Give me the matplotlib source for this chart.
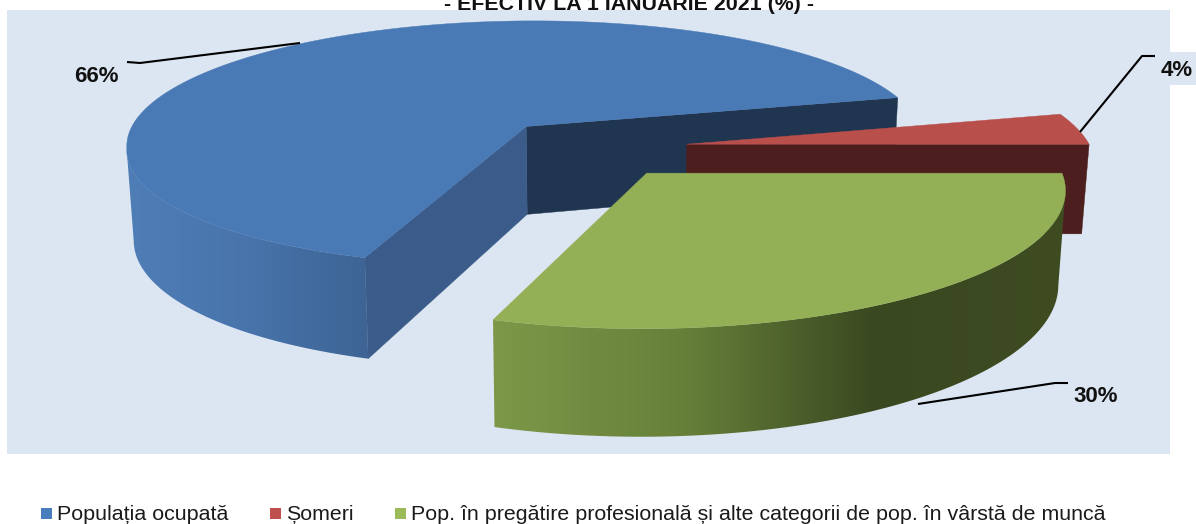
import numpy as np
import matplotlib
matplotlib.use("Agg")
import matplotlib.pyplot as plt
from matplotlib.patches import Polygon, Rectangle
from matplotlib.colors import LinearSegmentedColormap

categories = ["Populația ocupată", "Șomeri",
              "Pop. în pregătire profesională și alte categorii de pop. în vârstă de muncă"]
values = [66, 4, 30]
value_labels = ["66%", "4%", "30%"]
title = "- EFECTIV LA 1 IANUARIE 2021 (%) -"

plt.rcParams["font.family"] = ["Liberation Sans", "DejaVu Sans"]
W, H = 1196, 524
fig = plt.figure(figsize=(W / 100, H / 100), dpi=100)
ax = fig.add_axes([0, 0, 1, 1])
ax.set_xlim(0, W)
ax.set_ylim(H, 0)
ax.axis("off")

# projection of the tilted pie
CX, CY, A, B, K = 591, 148, 404, 126, 0.14
EXPLODE, DEPTH, SHRINK, SHEAR = 0.24, 90, 0.985, 15
START = 252.0  # degrees; slices run clockwise


def project(X, Y, lower=False):
    w = 1 + K * Y
    sx = A * X / w + SHEAR * np.minimum(Y, 0)
    sy = -B * Y / w
    if lower:
        sy = sy + DEPTH / w
        sx = sx * SHRINK
    return CX + sx, CY + sy


def slice_geom(a0, a1):
    """a0 > a1, in degrees. Returns helpers for one exploded slice."""
    mid = np.radians((a0 + a1) / 2)
    ox, oy = EXPLODE * np.cos(mid), EXPLODE * np.sin(mid)

    def rim(t0, t1, lower=False, n=200):
        t = np.radians(np.linspace(t0, t1, n))
        return project(ox + np.cos(t), oy + np.sin(t), lower)

    def apex(lower=False):
        return project(np.array([ox]), np.array([oy]), lower)

    return rim, apex


def poly(xs, ys, color, z):
    p = Polygon(np.column_stack([xs, ys]), closed=True, fc=color, ec=color, lw=0.3, zorder=z)
    ax.add_patch(p)
    return p


def face(rim, apex, ang, color, z):
    ax0, ay0 = apex()
    ax1, ay1 = apex(True)
    ex0, ey0 = rim(ang, ang, n=1)
    ex1, ey1 = rim(ang, ang, True, n=1)
    poly([ax0[0], ex0[0], ex1[0], ax1[0]], [ay0[0], ey0[0], ey1[0], ay1[0]], color, z)


def side(rim, t0, t1, stops, z, limit="left"):
    """Outer wall; the open end of the range is trimmed at the silhouette."""
    x0, y0 = rim(t0, t1)
    x1, y1 = rim(t0, t1, True)
    pick = np.argmin if limit == "left" else np.argmax
    i0, i1 = pick(x0), pick(x1)
    if limit == "left":
        xs = np.r_[x0[i0:], x1[i1:][::-1]]
        ys = np.r_[y0[i0:], y1[i1:][::-1]]
    else:
        xs = np.r_[x0[i0:], x1[i1:][::-1]]
        ys = np.r_[y0[i0:], y1[i1:][::-1]]
    p = poly(xs, ys, "none", z)
    cmap = LinearSegmentedColormap.from_list("g", stops)
    im = ax.imshow(np.linspace(0, 1, 256)[None, :], cmap=cmap, aspect="auto",
                   extent=[xs.min(), xs.max(), ys.max(), ys.min()], zorder=z)
    im.set_clip_path(p)


def top(rim, apex, a0, a1, color, z):
    xr, yr = rim(a0, a1)
    ax0, ay0 = apex()
    poly(np.r_[ax0, xr], np.r_[ay0, yr], color, z)


ax.add_patch(Rectangle((7, 10), 1163, 444, fc="#DCE6F2", ec="none", zorder=0))
ax.add_patch(Rectangle((1158, 52), 38, 33, fc="#DCE6F2", ec="none", zorder=0))
ax.set_xlim(0, W)
ax.set_ylim(H, 0)

spans = 3.6 * np.array(values, dtype=float)
a_blue0 = START
a_blue1 = a_blue0 - spans[0]
a_red1 = a_blue1 - spans[1]
a_green1 = a_red1 - spans[2]

# blue
rim, apex = slice_geom(a_blue0, a_blue1)
face(rim, apex, a_blue1, "#1F3550", 2)
face(rim, apex, a_blue0, "#3B5C8A", 3)
side(rim, 130, a_blue0, ["#4F7DB6", "#4874AB", "#3D6494"], 3, "left")
top(rim, apex, a_blue0, a_blue1, "#4A7AB5", 4)

# red
rim, apex = slice_geom(a_blue1, a_red1)
face(rim, apex, a_red1, "#4C1F1E", 5)
side(rim, a_blue1, a_red1, ["#4C1F1E", "#4C1F1E"], 5, "right")
top(rim, apex, a_blue1, a_red1, "#B94F4B", 6)

# green
rim, apex = slice_geom(a_red1, a_green1)
side(rim, a_red1, a_green1, ["#7C9848", "#66803A", "#3A4820", "#3F4C22"], 7, "right")
top(rim, apex, a_red1, a_green1, "#93B057", 8)

# value labels with leader lines
lab = dict(fontsize=16, fontweight="bold", color="#111111", va="center", ha="center", zorder=12)
leaders = [([127, 140, 300], [62, 63, 43]),
           ([1155, 1142, 1080], [56, 56, 132]),
           ([1068, 1055, 918], [383, 383, 404])]
for (lx, ly) in leaders:
    ax.plot(lx, ly, color="black", lw=1.5, zorder=11, solid_capstyle="butt")
for txt, (tx, ty) in zip(value_labels, [(96, 77), (1177, 70), (1096, 397)]):
    ax.text(tx, ty, txt, **lab)

# title, cut by the top edge as in the reference
ax.text(629, 9.5, title, fontsize=15.4, fontweight="bold", ha="center", va="baseline",
        color="#111111", zorder=1)

# legend
colors = ["#4A7DBB", "#C0504D", "#9BBB59"]
for c, name, sq in zip(colors, categories, [41, 270, 395]):
    ax.add_patch(Rectangle((sq, 508), 11, 11, fc=c, ec="none", zorder=5))
    ax.text(sq + 16, 514, name, fontsize=15.4, va="center", ha="left", color="#1a1a1a")

fig.savefig("out.png", dpi=100)
